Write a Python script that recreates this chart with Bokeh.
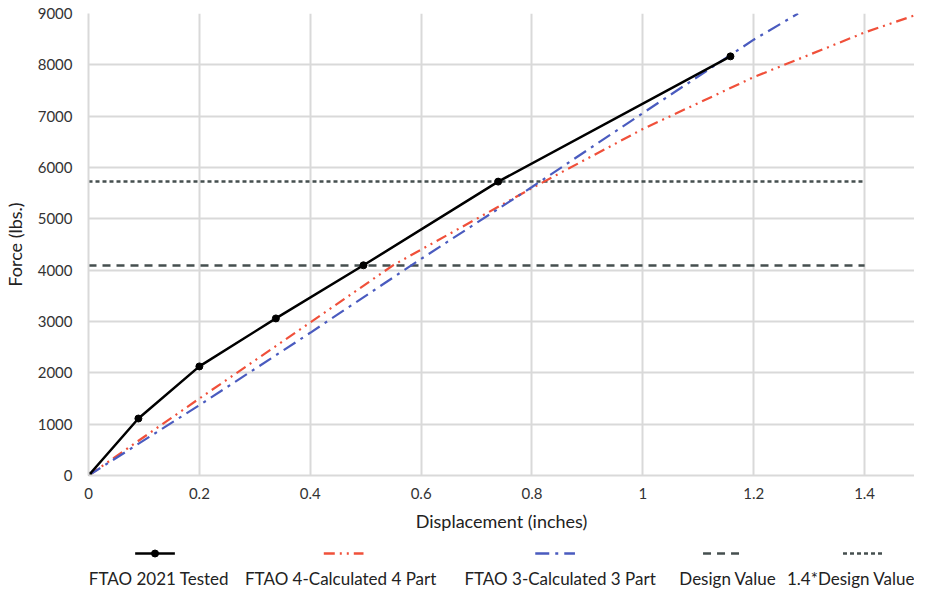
from bokeh.plotting import figure
from bokeh.layouts import column
from bokeh.models import Range1d, FixedTicker
from bokeh.core.properties import value
from bokeh.embed import file_html
from bokeh.resources import INLINE

# ---- data ----
tested_x = [0, 0.09, 0.2, 0.338, 0.496, 0.739, 1.158]
tested_y = [0, 1110, 2125, 3060, 4095, 5725, 8165]

calc4_x = [0, 0.2, 0.4, 0.55, 0.8, 1.0, 1.2, 1.4, 1.5]
calc4_y = [0, 1500, 2980, 4100, 5600, 6750, 7760, 8630, 9000]

calc3_x = [0, 0.2, 0.4, 0.6, 0.8, 1.0, 1.2, 1.28]
calc3_y = [0, 1370, 2780, 4220, 5620, 7060, 8490, 9000]

design_value = 4090
design_x = [0, 1.4]
design_y = [design_value, design_value]
design14_y = [1.4 * design_value, 1.4 * design_value]

x_ticks = [0, 0.2, 0.4, 0.6, 0.8, 1.0, 1.2, 1.4]
x_tick_labels = ["0", "0.2", "0.4", "0.6", "0.8", "1", "1.2", "1.4"]
y_ticks = [0, 1000, 2000, 3000, 4000, 5000, 6000, 7000, 8000, 9000]

legend_labels = ["FTAO 2021 Tested", "FTAO 4-Calculated 4 Part",
                 "FTAO 3-Calculated 3 Part", "Design Value", "1.4*Design Value"]

FONT = "Lato"
TXT = "#333333"
GRID = "#d9d9d9"
RED = "#f0503a"
BLUE = "#4a5bbf"
DV = "#454f4f"

p = figure(width=914, height=546, output_backend="svg", toolbar_location=None,
           x_range=Range1d(0, 1.49), y_range=Range1d(0, 9000),
           min_border_left=82, min_border_right=0, min_border_top=13,
           min_border_bottom=71)
p.outline_line_color = None
p.background_fill_color = "white"
p.border_fill_color = "white"

for ax in (p.xaxis[0], p.yaxis[0]):
    ax.axis_line_color = GRID
    ax.axis_line_width = 2
    ax.major_tick_line_color = None
    ax.minor_tick_line_color = None
    ax.major_label_text_font = FONT
    ax.major_label_text_font_size = "15px"
    ax.major_label_text_color = TXT
    ax.axis_label_text_font = FONT
    ax.axis_label_text_font_size = "18px"
    ax.axis_label_text_font_style = "normal"
    ax.axis_label_text_color = "#222222"

p.xaxis.ticker = FixedTicker(ticks=x_ticks)
p.xaxis.major_label_overrides = {t: l for t, l in zip(x_ticks, x_tick_labels)}
p.yaxis.ticker = FixedTicker(ticks=y_ticks)
p.xaxis.axis_label = "Displacement (inches)"
p.yaxis.axis_label = "Force (lbs.)"
p.xaxis.major_label_standoff = 6
p.yaxis.major_label_standoff = 10
p.xaxis.axis_label_standoff = 8
p.yaxis.axis_label_standoff = 9

p.xgrid.grid_line_color = GRID
p.ygrid.grid_line_color = GRID
p.xgrid.grid_line_width = 2
p.ygrid.grid_line_width = 2

p.line(design_x, design_y, line_color=DV, line_width=2.5, line_dash="8 6")
p.line(design_x, design14_y, line_color=DV, line_width=2.5, line_dash="4 3")
p.line(calc4_x, calc4_y, line_color=RED, line_width=2.2, line_dash="11 5 2 5 2 5")
p.line(calc3_x, calc3_y, line_color=BLUE, line_width=2.2, line_dash="14 6 3 6")
p.line(tested_x, tested_y, line_color="black", line_width=2.5)
p.scatter(tested_x, tested_y, size=7, color="black")

# ---- legend strip (layout positions in figure pixels; frame aligned to main plot) ----
leg = figure(width=914, height=42, output_backend="svg", toolbar_location=None,
             x_range=Range1d(82, 914), y_range=Range1d(42, 0),
             min_border=0, min_border_left=82, min_border_right=0,
             min_border_top=0, min_border_bottom=0)
leg.axis.visible = False
leg.grid.visible = False
leg.outline_line_color = None

glyph_cx = [149, 339, 552, 721, 862]
text_cx = [153, 336, 557, 726, 850]
gy = 7
half = 20
styles = [("black", None), (RED, "11 5 2 5 2 5"), (BLUE, "14 6 3 6"),
          (DV, "8 6"), (DV, "4 3")]
for cx, (col, dash) in zip(glyph_cx, styles):
    kw = dict(line_color=col, line_width=2.5)
    if dash:
        kw["line_dash"] = dash
    leg.line([cx - half, cx + half], [gy, gy], **kw)
leg.scatter([glyph_cx[0]], [gy], size=7, color="black")
leg.text(text_cx, [32] * 5, text=legend_labels, text_align="center",
         text_baseline="middle", text_font=value(FONT), text_font_size="17px",
         text_color="#222222")

layout = column(p, leg, spacing=0)
open("out.html", "w").write(file_html(layout, INLINE))
